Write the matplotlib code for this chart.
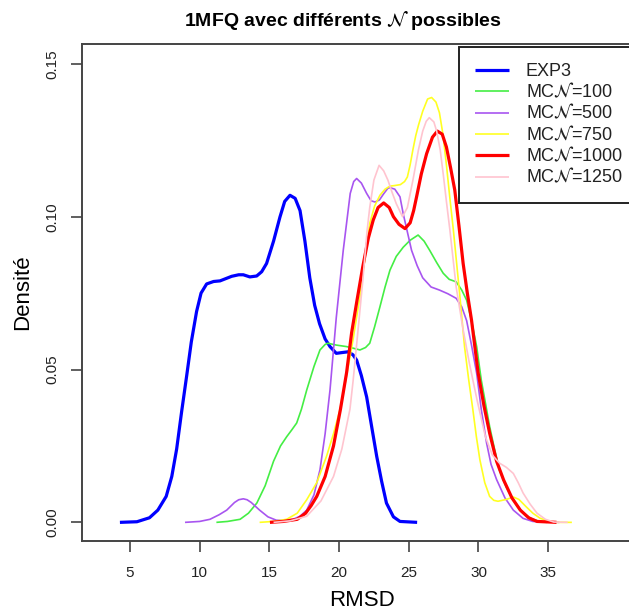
import matplotlib
matplotlib.use("Agg")
import matplotlib.pyplot as plt

plt.rcParams["font.family"] = ["Liberation Sans", "DejaVu Sans"]
plt.rcParams["mathtext.fontset"] = "stix"

# density curves (RMSD, density)
exp3_x = [4.28, 5.5, 6.4, 7.0, 7.6, 8.0, 8.35, 8.7, 9.07, 9.4, 9.78, 10.1, 10.5, 11.0, 11.46,
          12.3, 12.8, 13.13, 13.6, 14.09, 14.45, 14.8, 15.3, 15.76, 16.1, 16.48, 16.85, 17.2,
          17.55, 17.9, 18.25, 18.6, 19.0, 19.35, 19.8, 20.3, 20.66, 21.0, 21.26, 21.6, 21.98,
          22.35, 22.7, 23.05, 23.4, 23.9, 24.37, 25.6]
exp3_y = [0, 0.0002, 0.0015, 0.004, 0.0085, 0.015, 0.024, 0.036, 0.048, 0.059, 0.069, 0.075,
          0.078, 0.0788, 0.079, 0.0805, 0.081, 0.081, 0.0803, 0.0806, 0.082, 0.0847, 0.092,
          0.0999, 0.105, 0.107, 0.106, 0.102, 0.092, 0.080, 0.071, 0.065, 0.060, 0.0575, 0.0553,
          0.0556, 0.0558, 0.0548, 0.0531, 0.048, 0.041, 0.031, 0.0216, 0.0135, 0.0063, 0.0018,
          0.0003, 0]

mc100_x = [11.2, 12.0, 12.9, 13.5, 14.1, 14.7, 15.3, 15.8, 16.24, 16.6, 16.96, 17.3, 17.68,
           18.2, 18.63, 19.0, 19.2, 19.8, 20.54, 21.0, 21.5, 21.9, 22.2, 22.55, 22.93, 23.3,
           23.65, 24.1, 24.6, 25.1, 25.67, 26.1, 26.5, 27.0, 27.47, 27.9, 28.4, 28.8, 29.15,
           29.5, 29.87, 30.2, 30.5, 30.8, 31.15, 31.5, 32.0, 32.5, 33.1, 33.7, 34.3, 34.9]
mc100_y = [0, 0.0003, 0.001, 0.003, 0.0063, 0.012, 0.020, 0.025, 0.028, 0.0302, 0.0325, 0.037,
           0.0433, 0.051, 0.0564, 0.0582, 0.0586, 0.058, 0.0575, 0.057, 0.0564, 0.0572, 0.0586,
           0.064, 0.0705, 0.077, 0.0825, 0.087, 0.090, 0.0923, 0.094, 0.092, 0.089, 0.085,
           0.0815, 0.0795, 0.0787, 0.076, 0.0727, 0.066, 0.0575, 0.0466, 0.039, 0.0314, 0.024,
           0.0172, 0.0115, 0.0074, 0.0035, 0.0014, 0.0004, 0]

mc500_x = [8.95, 10.0, 10.74, 11.4, 11.94, 12.5, 12.8, 13.13, 13.4, 13.7, 14.3, 14.9, 15.5,
           16.1, 16.7, 17.2, 17.68, 18.2, 18.63, 19.0, 19.35, 19.8, 20.3, 20.8, 21.05, 21.26,
           21.6, 21.98, 22.3, 22.58, 22.9, 23.2, 23.5, 23.65, 24.0, 24.37, 24.6, 24.9, 25.2,
           25.6, 26.0, 26.6, 27.2, 27.8, 28.4, 28.8, 29.15, 29.5, 29.87, 30.2, 30.58, 30.9,
           31.3, 31.9, 32.5, 33.2, 33.9, 35.8]
mc500_y = [0, 0.0003, 0.001, 0.0025, 0.004, 0.0065, 0.0074, 0.0077, 0.0074, 0.0065, 0.004,
           0.0018, 0.0007, 0.0006, 0.001, 0.002, 0.004, 0.009, 0.0172, 0.029, 0.0433, 0.067,
           0.089, 0.1076, 0.1115, 0.1125, 0.111, 0.1076, 0.1052, 0.1048, 0.1055, 0.1075, 0.1093,
           0.1095, 0.109, 0.1065, 0.101, 0.095, 0.089, 0.084, 0.080, 0.077, 0.076, 0.0748,
           0.0733, 0.0705, 0.066, 0.058, 0.0488, 0.037, 0.026, 0.019, 0.014, 0.008, 0.004,
           0.0013, 0.0003, 0]

mc750_x = [14.3, 15.3, 16.24, 17.0, 17.68, 18.4, 19.1, 19.6, 20.06, 20.5, 21.0, 21.5, 21.9,
           22.2, 22.55, 22.93, 23.3, 23.65, 24.0, 24.4, 24.7, 24.9, 25.1, 25.3, 25.5, 25.7,
           26.0, 26.35, 26.64, 26.95, 27.2, 27.45, 27.7, 27.95, 28.2, 28.45, 28.67, 29.0, 29.3,
           29.6, 29.85, 30.1, 30.45, 30.8, 31.1, 31.4, 32.0, 32.5, 32.9, 33.4, 33.9, 34.4, 35.0,
           35.6, 36.7]
mc750_y = [0, 0.0003, 0.001, 0.003, 0.0074, 0.013, 0.0216, 0.029, 0.0368, 0.047, 0.0597,
           0.074, 0.088, 0.0978, 0.1035, 0.107, 0.109, 0.110, 0.1102, 0.1105, 0.1115, 0.113,
           0.117, 0.122, 0.1265, 0.130, 0.1345, 0.1385, 0.139, 0.1375, 0.134, 0.127, 0.117,
           0.106, 0.0956, 0.084, 0.0738, 0.0575, 0.0466, 0.0368, 0.028, 0.0205, 0.013, 0.0085,
           0.0072, 0.0069, 0.0075, 0.0083, 0.0075, 0.0052, 0.003, 0.0014, 0.0004, 0.0, 0]

mc1000_x = [15.04, 16.0, 17.0, 17.6, 18.0, 18.4, 19.0, 19.6, 20.1, 20.54, 20.9, 21.3, 21.7,
            22.1, 22.45, 22.8, 23.2, 23.6, 23.9, 24.3, 24.73, 25.1, 25.35, 25.56, 25.9, 26.28,
            26.7, 27.05, 27.4, 27.7, 28.0, 28.3, 28.6, 28.9, 29.2, 29.5, 29.98, 30.4, 30.8,
            31.3, 31.8, 32.4, 33.0, 33.6, 34.2, 35.6]
mc1000_y = [0, 0.0003, 0.001, 0.003, 0.0055, 0.0085, 0.015, 0.025, 0.037, 0.049, 0.062, 0.073,
            0.0836, 0.093, 0.0989, 0.103, 0.1045, 0.103, 0.100, 0.0975, 0.0961, 0.098, 0.102,
            0.1065, 0.114, 0.1206, 0.126, 0.128, 0.127, 0.1228, 0.116, 0.1087, 0.097, 0.0847,
            0.075, 0.0662, 0.0488, 0.038, 0.0292, 0.020, 0.0139, 0.008, 0.004, 0.0015, 0.0003, 0]

mc1250_x = [15.3, 16.5, 17.68, 18.7, 19.6, 20.2, 20.78, 21.0, 21.3, 21.7, 22.0, 22.2, 22.5,
            22.87, 23.2, 23.5, 23.8, 24.1, 24.55, 24.9, 25.3, 25.7, 26.0, 26.25, 26.47, 26.8,
            27.0, 27.25, 27.47, 27.7, 27.95, 28.4, 28.9, 29.35, 29.9, 30.5, 31.0, 31.5, 32.0,
            32.5, 32.85, 33.2, 33.7, 34.2, 34.8, 35.4, 36.4]
mc1250_y = [0, 0.0005, 0.002, 0.007, 0.015, 0.024, 0.037, 0.046, 0.060, 0.079, 0.095, 0.103,
            0.112, 0.1168, 0.115, 0.112, 0.108, 0.1043, 0.100, 0.103, 0.112, 0.122, 0.128,
            0.1312, 0.1324, 0.131, 0.128, 0.122, 0.114, 0.105, 0.0956, 0.077, 0.063, 0.052,
            0.040, 0.028, 0.022, 0.0194, 0.018, 0.016, 0.013, 0.0096, 0.006, 0.003, 0.001,
            0.0001, 0]

N = r"$\mathcal{N}$"
labels = ["EXP3", f"MC{N}=100", f"MC{N}=500", f"MC{N}=750", f"MC{N}=1000", f"MC{N}=1250"]
series = [(exp3_x, exp3_y), (mc100_x, mc100_y), (mc500_x, mc500_y),
          (mc750_x, mc750_y), (mc1000_x, mc1000_y), (mc1250_x, mc1250_y)]
colors = ["#0000ff", "#44ee44", "#a855f0", "#ffff22", "#ff0000", "#ffc4cf"]
widths = [2.3, 1.2, 1.2, 1.2, 2.3, 1.2]

fig = plt.figure(figsize=(6.29, 6.14), dpi=100)
ax = fig.add_axes([82 / 629, 1 - 541 / 614, 1.02 - 82 / 629, (541 - 44) / 614])

for (xs, ys), c, lw, lab in zip(series, colors, widths, labels):
    ax.plot(xs, ys, color=c, lw=lw, label=lab, solid_capstyle="butt", solid_joinstyle="round")

ax.set_xlim(1.56, 41.7)
ax.set_ylim(-0.0061, 0.1565)
ax.set_xticks([5, 10, 15, 20, 25, 30, 35])
ax.set_yticks([0.0, 0.05, 0.10, 0.15])
ax.set_yticklabels(["0.00", "0.05", "0.10", "0.15"], rotation=90, va="center")
ax.tick_params(axis="both", labelsize=11, length=8, width=1.2, color="#444444", labelcolor="#222222")
ax.tick_params(axis="x", pad=10)
ax.tick_params(axis="y", pad=8)
for s in ax.spines.values():
    s.set_color("#444444")
    s.set_linewidth(1.4)

ax.set_xlabel("RMSD", fontsize=16, labelpad=7)
ax.set_ylabel("Densité", fontsize=16, labelpad=9)

fig.text(343 / 629, 1 - 20 / 614, f"1MFQ avec différents {N} possibles",
         ha="center", va="center", fontsize=14, fontweight="bold")

leg = ax.legend(loc="upper left", bbox_to_anchor=(459 / 629, 1 - 47 / 614),
                bbox_transform=fig.transFigure, fontsize=13, frameon=True, fancybox=False,
                framealpha=1, edgecolor="#222222", handlelength=1.85, handletextpad=0.95,
                labelspacing=0.12, borderpad=0.9, borderaxespad=0)
leg.get_frame().set_linewidth(1.4)
for t in leg.get_texts():
    t.set_color("#222222")

fig.savefig("out.png", dpi=100)
